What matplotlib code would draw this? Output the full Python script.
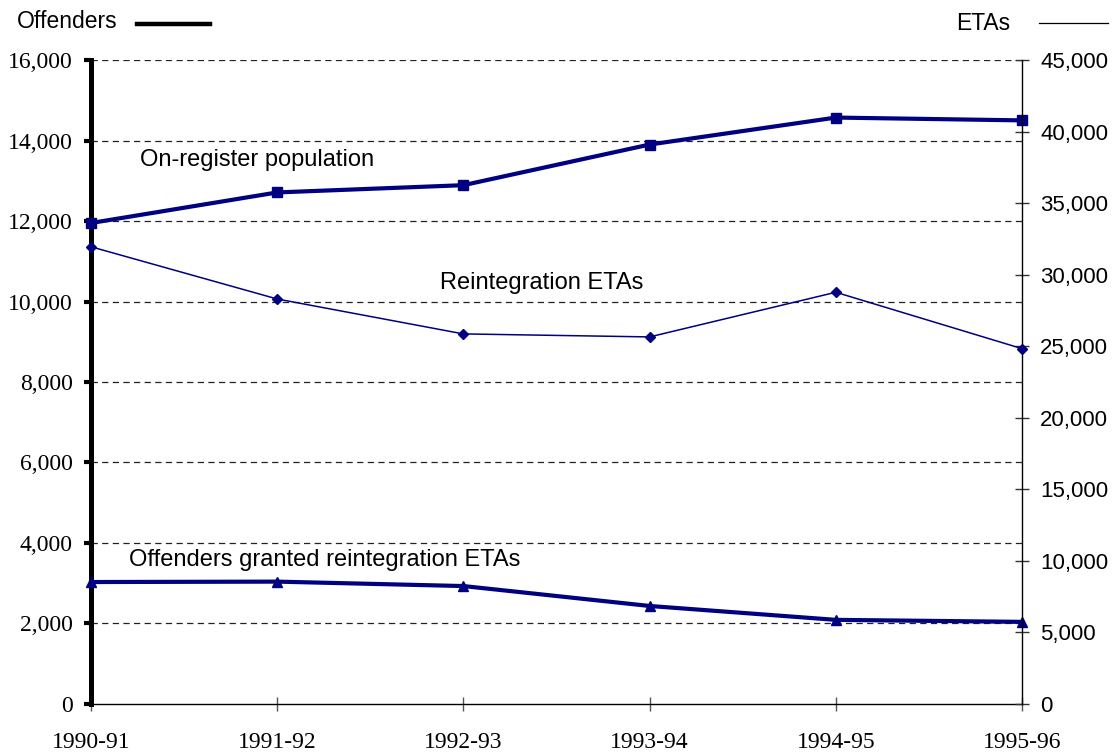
import numpy as np
import matplotlib.pyplot as plt
from matplotlib.lines import Line2D
from matplotlib.ticker import FuncFormatter

# data
years = ['1990-91', '1991-92', '1992-93', '1993-94', '1994-95', '1995-96']
on_register = [11950, 12710, 12890, 13900, 14570, 14500]       # offenders (left)
granted = [3030, 3040, 2930, 2435, 2090, 2040]                  # offenders (left)
reint_etas = [31950, 28300, 25860, 25650, 28770, 24830]         # ETAs (right)

left_ticks = list(range(0, 16001, 2000))
right_ticks = list(range(0, 45001, 5000))

navy = '#000080'
serif = 'Liberation Serif'
sans = 'Liberation Sans'
comma = FuncFormatter(lambda v, p: f'{int(v):,}')

fig = plt.figure(figsize=(11.2, 7.53), dpi=100)
ax = fig.add_axes([0.08125, 0.0651, 0.83125, 0.8552])
ax2 = ax.twinx()

x = np.arange(len(years))

# gridlines from the left axis
for t in left_ticks[1:]:
    ax.axhline(t, color='#222222', lw=0.9, ls=(0, (5, 3.5)), zorder=1)

ax.plot(x, on_register, color=navy, lw=3.0, marker='s', ms=7, zorder=3, clip_on=False)
ax.plot(x, granted, color=navy, lw=3.0, marker='^', ms=7.5, zorder=3, clip_on=False)
ax2.plot(x, reint_etas, color=navy, lw=1.1, marker='D', ms=5, zorder=3, clip_on=False)

ax.set_xlim(0, len(years) - 1)
ax.set_ylim(0, 16000)
ax2.set_ylim(0, 45000)

ax.set_xticks(x)
ax.set_xticklabels(years, fontfamily=serif, fontsize=17)
ax.set_yticks(left_ticks)
ax.yaxis.set_major_formatter(comma)
for lab in ax.get_yticklabels():
    lab.set_fontfamily(serif)
    lab.set_fontsize(17)
ax2.set_yticks(right_ticks)
ax2.yaxis.set_major_formatter(comma)
for lab in ax2.get_yticklabels():
    lab.set_fontfamily(sans)
    lab.set_fontsize(16)

ax.tick_params(axis='y', direction='out', length=5, width=3, pad=8, colors='black')
ax.tick_params(axis='x', direction='inout', length=10, width=1, pad=15,
               color='#555555', labelcolor='black')
ax2.tick_params(axis='y', direction='inout', length=10, width=1, pad=8,
                color='#333333', labelcolor='black')

for s in ['top', 'right']:
    ax.spines[s].set_visible(False)
for s in ['top', 'left', 'bottom']:
    ax2.spines[s].set_visible(False)
ax.spines['left'].set_linewidth(3.6)
ax.spines['bottom'].set_linewidth(1.0)
ax2.spines['right'].set_linewidth(1.0)

# series labels
ax.text(0.263, 13515, 'On-register population', fontfamily=sans, fontsize=17,
        va='center', ha='left')
ax.text(1.874, 10460, 'Reintegration ETAs', fontfamily=sans, fontsize=17,
        va='center', ha='left')
ax.text(0.204, 3580, 'Offenders granted reintegration ETAs', fontfamily=sans,
        fontsize=17, va='center', ha='left')

# axis headers with line keys
fig.text(17 / 1120, 1 - 22 / 753, 'Offenders', fontfamily=sans, fontsize=16.5,
         va='center', ha='left')
fig.add_artist(Line2D([137 / 1120, 210 / 1120], [1 - 24 / 753, 1 - 24 / 753],
                      color='black', lw=3.2, transform=fig.transFigure))
fig.text(1010 / 1120, 1 - 24 / 753, 'ETAs', fontfamily=sans, fontsize=16.5,
         va='center', ha='right')
fig.add_artist(Line2D([1039 / 1120, 1108 / 1120], [1 - 23 / 753, 1 - 23 / 753],
                      color='black', lw=0.9, transform=fig.transFigure))

fig.savefig('out.png', dpi=100)
